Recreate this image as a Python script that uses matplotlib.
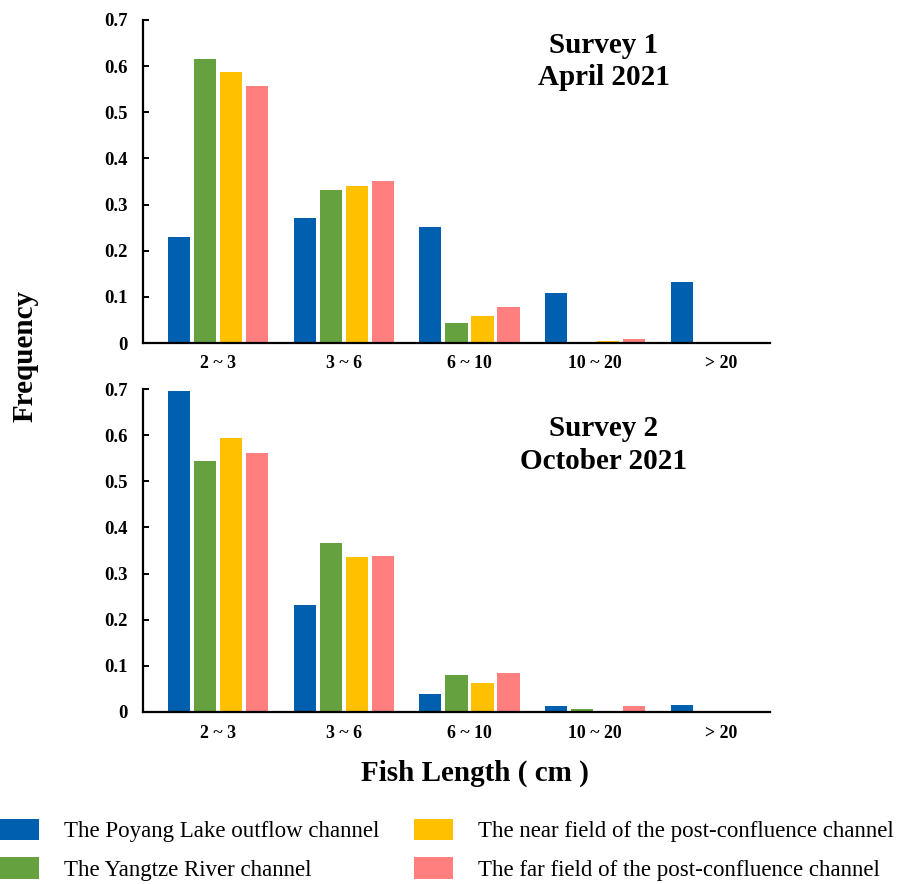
import matplotlib
matplotlib.use("Agg")
import matplotlib.pyplot as plt
import numpy as np
from matplotlib.patches import Patch

# length classes (cm)
length_classes = ["2 ~ 3", "3 ~ 6", "6 ~ 10", "10 ~ 20", "> 20"]

channels = [
    "The Poyang Lake outflow channel",
    "The Yangtze River channel",
    "The near field of the post-confluence channel",
    "The far field of the post-confluence channel",
]
colors = ["#005FAE", "#66A13F", "#FFC000", "#FF7F7F"]

# survey 1, April 2021
survey1_poyang = [0.229, 0.270, 0.252, 0.108, 0.133]
survey1_yangtze = [0.615, 0.332, 0.044, 0.0, 0.0]
survey1_near = [0.588, 0.340, 0.059, 0.004, 0.0]
survey1_far = [0.557, 0.350, 0.077, 0.008, 0.0]

# survey 2, October 2021
survey2_poyang = [0.696, 0.232, 0.038, 0.012, 0.016]
survey2_yangtze = [0.545, 0.367, 0.080, 0.006, 0.0]
survey2_near = [0.594, 0.335, 0.062, 0.003, 0.0]
survey2_far = [0.562, 0.339, 0.085, 0.012, 0.0]

surveys = [
    ("Survey 1\nApril 2021",
     [survey1_poyang, survey1_yangtze, survey1_near, survey1_far]),
    ("Survey 2\nOctober 2021",
     [survey2_poyang, survey2_yangtze, survey2_near, survey2_far]),
]

serif = ["Liberation Serif", "DejaVu Serif"]
plt.rcParams["font.family"] = serif

W, H = 909, 884
fig = plt.figure(figsize=(W / 100, H / 100), dpi=100)

left = 143 / W
width = (770 - 143) / W
# (top px, bottom px) of each panel
panel_px = [(20, 343), (389, 712)]
title_pos = [0.871, 0.827]

x = np.arange(len(length_classes))
pitch = 0.207
bar_w = 0.176

for (top_px, bot_px), (title, series), ty in zip(panel_px, surveys, title_pos):
    ax = fig.add_axes([left, 1 - bot_px / H, width, (bot_px - top_px) / H])
    for k, (vals, c) in enumerate(zip(series, colors)):
        ax.bar(x + (k - 1.5) * pitch, vals, width=bar_w, color=c, linewidth=0)

    ax.set_xlim(-0.596, 4.39)
    ax.set_ylim(0, 0.7)
    yt = np.arange(0, 0.71, 0.1)
    ax.set_yticks(yt)
    ax.set_yticklabels(["0"] + [f"{v:.1f}" for v in yt[1:]])
    ax.set_xticks(x)
    ax.set_xticklabels(length_classes)

    for s in ["top", "right"]:
        ax.spines[s].set_visible(False)
    for s in ["left", "bottom"]:
        ax.spines[s].set_linewidth(1.6)
        ax.spines[s].set_color("black")

    ax.tick_params(axis="y", direction="in", length=4, width=1.4, pad=11,
                   labelsize=13.5)
    ax.tick_params(axis="x", length=0, pad=9, labelsize=12.8)
    for lbl in ax.get_xticklabels() + ax.get_yticklabels():
        lbl.set_fontweight("bold")

    ax.text(0.735, ty, title, transform=ax.transAxes, ha="center", va="center",
            fontsize=21, fontweight="bold", linespacing=1.25)

fig.text(25 / W, 1 - 356 / H, "Frequency", rotation=90, ha="center",
         va="center", fontsize=21, fontweight="bold")
fig.text(475 / W, 1 - 773 / H, "Fish Length ( cm )", ha="center",
         va="center", fontsize=21, fontweight="bold")

handles = [Patch(facecolor=c, edgecolor="none") for c in colors]
fig.legend(handles, channels, ncol=2, loc="upper left",
           bbox_to_anchor=(0, 1 - 819 / H), frameon=False, fontsize=16.5,
           handlelength=1.7, handleheight=1.05, handletextpad=1.1,
           labelspacing=0.65, columnspacing=1.5, borderpad=0,
           borderaxespad=0)

fig.savefig("out.png", dpi=100)
plt.close(fig)
